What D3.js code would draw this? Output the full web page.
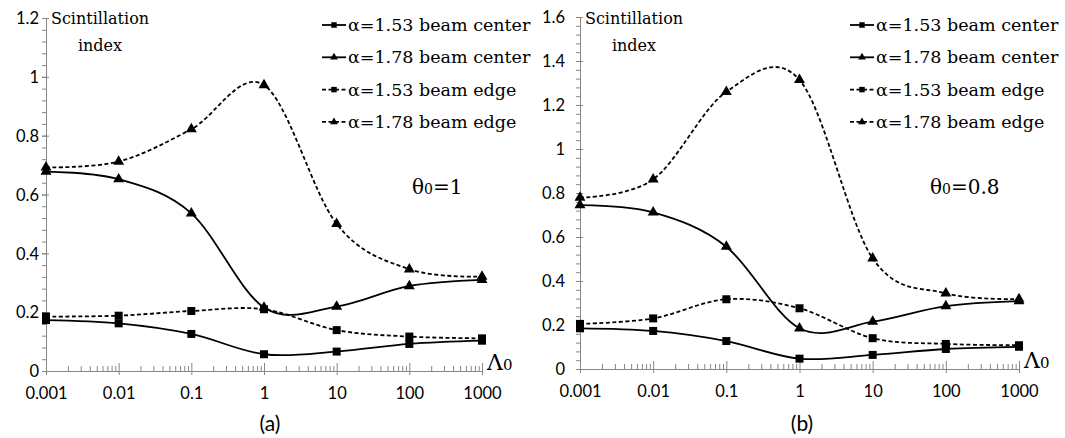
<!DOCTYPE html>
<html>
<head>
<meta charset="utf-8">
<script src="https://cdn.jsdelivr.net/npm/d3@7"></script>
<style>
  body { margin: 0; background: #fff; }
  .serif { font-family: "DejaVu Serif", "Liberation Serif", serif; fill: #000; }
</style>
</head>
<body>
<div id="chart"></div>
<script>
// x values (Λ0) shared by both panels
const lambda0 = [0.001, 0.01, 0.1, 1, 10, 100, 1000];
const xTickLabels = ["0.001", "0.01", "0.1", "1", "10", "100", "1000"];

const seriesNames = ["α=1.53 beam center", "α=1.78 beam center", "α=1.53 beam edge", "α=1.78 beam edge"];

// panel (a), θ0 = 1
const a_center153 = [0.173, 0.162, 0.126, 0.057, 0.066, 0.092, 0.103];
const a_center178 = [0.678, 0.652, 0.536, 0.216, 0.219, 0.289, 0.310];
const a_edge153   = [0.185, 0.188, 0.204, 0.210, 0.139, 0.117, 0.111];
const a_edge178   = [0.692, 0.712, 0.822, 0.972, 0.500, 0.346, 0.321];

// panel (b), θ0 = 0.8
const b_center153 = [0.185, 0.173, 0.127, 0.047, 0.064, 0.091, 0.101];
const b_center178 = [0.745, 0.712, 0.556, 0.185, 0.215, 0.286, 0.309];
const b_edge153   = [0.205, 0.230, 0.317, 0.276, 0.140, 0.114, 0.108];
const b_edge178   = [0.779, 0.862, 1.260, 1.314, 0.503, 0.344, 0.318];

const yTicksA = [0, 0.2, 0.4, 0.6, 0.8, 1, 1.2];
const yTicksB = [0, 0.2, 0.4, 0.6, 0.8, 1, 1.2, 1.4, 1.6];

const svg = d3.select("#chart").append("svg")
    .attr("width", 1065)
    .attr("height", 438);

const axisColor = "#868686";
const sansFont = "Lato, 'Open Sans', sans-serif";

function drawPanel(cfg) {
    const x = d3.scaleLog().domain([0.001, 1000]).range([cfg.x0, cfg.x1]);
    const y = d3.scaleLinear().domain([0, cfg.yMax]).range([cfg.y0, cfg.yTop]);
    const g = svg.append("g");

    // minor y ticks (every 0.04)
    const yMinor = d3.range(0, Math.round(cfg.yMax / 0.04) + 1).map(i => +(i * 0.04).toFixed(2));
    g.append("g")
        .attr("transform", `translate(${cfg.x0},0)`)
        .call(d3.axisLeft(y).tickValues(yMinor).tickSize(4).tickFormat(""))
        .call(s => s.select(".domain").remove())
        .selectAll("line").attr("stroke", axisColor);

    // major y axis
    const yAx = g.append("g")
        .attr("transform", `translate(${cfg.x0},0)`)
        .call(d3.axisLeft(y).tickValues(cfg.yTicks).tickSize(4).tickPadding(cfg.yPad)
            .tickFormat(d => d3.format("~g")(d)).tickSizeOuter(0));
    yAx.select(".domain").attr("stroke", axisColor);
    yAx.selectAll("line").attr("stroke", axisColor).attr("x2", 3).attr("x1", -4);
    yAx.selectAll("text")
        .attr("dy", "0.35em")
        .style("font-family", sansFont)
        .style("font-size", "16.5px")
        .style("fill", "#000");

    // minor x ticks (2..9 per decade), pointing up
    const xMinor = [];
    for (let e = -3; e < 3; e++) for (let k = 2; k <= 9; k++) xMinor.push(k * Math.pow(10, e));
    g.append("g")
        .attr("transform", `translate(0,${cfg.y0})`)
        .call(d3.axisBottom(x).tickValues(xMinor).tickSize(-5).tickFormat(""))
        .call(s => s.select(".domain").remove())
        .selectAll("line").attr("stroke", axisColor);

    // major x axis
    const xAx = g.append("g")
        .attr("transform", `translate(0,${cfg.y0})`)
        .call(d3.axisBottom(x).tickValues(lambda0).tickSize(4).tickPadding(12)
            .tickFormat((d, i) => xTickLabels[i]).tickSizeOuter(0));
    xAx.select(".domain").attr("stroke", axisColor).attr("d", `M${cfg.x0 - 3},0.5H${cfg.x1}`);
    xAx.selectAll("line").attr("stroke", axisColor).attr("y1", -8);
    xAx.selectAll("text")
        .style("font-family", sansFont)
        .style("font-size", "16.5px")
        .style("fill", "#000");

    // curves (Excel style smoothing)
    const line = d3.line()
        .x(d => x(d[0]))
        .y(d => y(d[1]))
        .curve(d3.curveCardinal.tension(0));

    cfg.series.forEach((vals, si) => {
        const pts = lambda0.map((l, i) => [l, vals[i]]);
        const dashed = si >= 2;
        const tri = si % 2 === 1;
        g.append("path")
            .attr("d", line(pts))
            .attr("fill", "none")
            .attr("stroke", "#000")
            .attr("stroke-width", 1.8)
            .attr("stroke-dasharray", dashed ? "4,2.5" : null);
        g.selectAll(null).data(pts).enter()
            .append("path")
            .attr("transform", d => `translate(${x(d[0])},${y(d[1])})`)
            .attr("d", d3.symbol(tri ? d3.symbolTriangle : d3.symbolSquare, tri ? 52 : 64))
            .attr("fill", "#000");

        // legend entry
        const ly = cfg.legY + si * 32.3;
        const lg = g.append("g");
        lg.append("line")
            .attr("x1", cfg.legX).attr("x2", cfg.legX + 24)
            .attr("y1", ly - 6).attr("y2", ly - 6)
            .attr("stroke", "#000").attr("stroke-width", 1.8)
            .attr("stroke-dasharray", dashed ? "4,2.5" : null);
        lg.append("path")
            .attr("transform", `translate(${cfg.legX + 12},${ly - 6})`)
            .attr("d", d3.symbol(tri ? d3.symbolTriangle : d3.symbolSquare, tri ? 26 : 30))
            .attr("fill", "#000");
        lg.append("text")
            .attr("class", "serif")
            .attr("x", cfg.legX + 26)
            .attr("y", ly)
            .style("font-size", "17.5px")
            .text(seriesNames[si]);
    });

    // axis title inside plot
    g.append("text").attr("class", "serif")
        .attr("x", cfg.x0 + 54).attr("y", 24)
        .attr("text-anchor", "middle").style("font-size", "16px")
        .text("Scintillation");
    g.append("text").attr("class", "serif")
        .attr("x", cfg.x0 + 54).attr("y", 51)
        .attr("text-anchor", "middle").style("font-size", "16px")
        .text("index");

    // θ0 annotation
    const th = g.append("text").attr("class", "serif")
        .attr("x", cfg.thetaX).attr("y", 194).style("font-size", "20px");
    th.append("tspan").text("θ");
    th.append("tspan").style("font-size", "14px").text("0");
    th.append("tspan").text("=" + cfg.theta);

    // Λ0 at the end of the x axis
    const lam = g.append("text").attr("class", "serif")
        .attr("x", cfg.x1 + 5).attr("y", cfg.y0 - 1).style("font-size", "22px");
    lam.append("tspan").text("Λ");
    lam.append("tspan").style("font-size", "15px").text("0");

    // panel label
    g.append("text")
        .attr("x", cfg.labX).attr("y", 431)
        .attr("text-anchor", "middle")
        .style("font-family", sansFont)
        .style("font-size", "21px")
        .text(cfg.label);
}

drawPanel({
    x0: 46, x1: 482, y0: 371, yTop: 18, yMax: 1.2, yTicks: yTicksA, yPad: 3,
    series: [a_center153, a_center178, a_edge153, a_edge178],
    legX: 322, legY: 31, thetaX: 412, theta: "1", labX: 270, label: "(a)"
});

drawPanel({
    x0: 580, x1: 1019, y0: 369, yTop: 17, yMax: 1.6, yTicks: yTicksB, yPad: 11,
    series: [b_center153, b_center178, b_edge153, b_edge178],
    legX: 850, legY: 31, thetaX: 930, theta: "0.8", labX: 802, label: "(b)"
});
</script>
</body>
</html>
